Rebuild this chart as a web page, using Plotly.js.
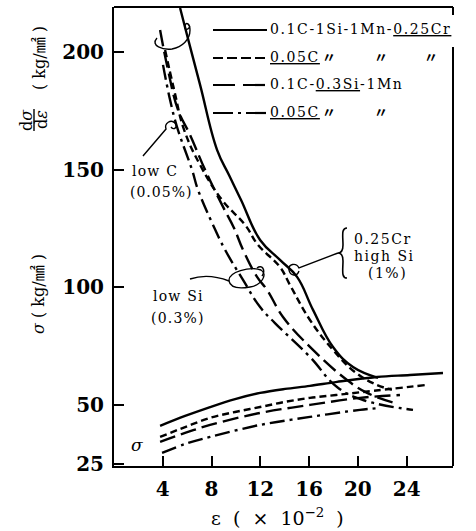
<!DOCTYPE html>
<html><head><meta charset="utf-8">
<script src="https://cdn.plot.ly/plotly-3.0.1.min.js"></script>
<style>html,body{margin:0;padding:0;background:#fff;}#chart{width:476px;height:531px;}</style>
</head><body><div id="chart"></div>
<script>
// ---- data ----
const seriesNames = ['0.1C-1Si-1Mn-0.25Cr', '0.05C-1Si-1Mn-0.25Cr', '0.1C-0.3Si-1Mn', '0.05C-0.3Si-1Mn'];
const xTicks = [4, 8, 12, 16, 20, 24];
const yTicks = [25, 50, 100, 150, 200];

// d(sigma)/d(epsilon) curves
const dsA_x = [5.42, 5.99, 7.06, 8.45, 9.43, 10.42, 11.98, 13.61, 15.01, 16.32, 17.96, 19.6, 21.65];
const dsA_y = [218.7, 207.2, 186.0, 158.4, 147.7, 137.1, 120.1, 111.6, 104.4, 90.4, 74.6, 66.1, 61.5];
const dsB_x = [4.19, 4.93, 5.75, 7.06, 8.86, 10.75, 11.81, 13.61, 14.43, 16.07, 17.96, 19.75, 21.39, 22.79];
const dsB_y = [200.8, 183.9, 166.9, 152.0, 137.1, 126.5, 118.0, 108.6, 101.0, 86.1, 73.4, 64.0, 58.9, 56.4];
const dsC_x = [3.78, 4.43, 5.25, 6.24, 7.47, 8.86, 9.84, 10.58, 11.73, 12.55, 13.86, 16.32, 19.11, 20.75, 23.04];
const dsC_y = [209.3, 192.4, 175.4, 164.7, 149.9, 135.0, 125.2, 115.9, 104.4, 98.9, 87.4, 73.4, 60.6, 55.1, 50.8];
const dsD_x = [4.02, 4.6, 5.17, 6.4, 6.89, 8.12, 9.11, 10.58, 11.98, 13.2, 16.07, 18.29, 20.42, 24.52];
const dsD_y = [194.5, 179.6, 168.1, 149.9, 141.4, 126.5, 115.9, 103.1, 91.6, 84.8, 70.4, 57.6, 52.1, 47.9];

// sigma curves
const sA_x = [3.78, 5.83, 7.88, 9.93, 11.98, 14.03, 16.07, 18.29, 21.57, 24.27, 26.98];
const sA_y = [41.1, 45.3, 49.1, 52.5, 55.1, 56.8, 58.1, 59.8, 61.9, 62.7, 63.6];
const sB_x = [3.78, 5.83, 7.88, 9.93, 11.98, 14.03, 16.07, 18.2, 20.41, 25.66];
const sB_y = [36.4, 40.6, 44.5, 47.0, 49.1, 51.3, 53.0, 54.2, 55.5, 58.5];
const sC_x = [3.78, 5.83, 7.88, 11.98, 16.07, 20.17, 23.45];
const sC_y = [34.3, 38.1, 41.5, 46.6, 50.0, 53.0, 54.2];
const sD_x = [3.94, 5.83, 7.88, 11.98, 16.07, 20.17, 21.8];
const sD_y = [29.6, 33.4, 36.4, 41.5, 44.9, 47.9, 48.7];

// ---- styling ----
const dashes = ['solid', '7px,4px', '16px,6px', '15px,5px,3px,5px'];
const W = 476, H = 531, L = 114, R = 453, T = 7, B = 466;
const PX = v => (v - L) / (R - L);
const PY = v => (B - v) / (B - T);
const serif = 'DejaVu Serif, Liberation Serif, Noto Sans CJK JP, serif';

function line(x, y, i, name, sm) {
  return {x: x, y: y, type: 'scatter', mode: 'lines', name: name, showlegend: false,
    hoverinfo: 'skip',
    line: {color: '#000', width: 2.4, dash: dashes[i], shape: 'spline', smoothing: sm}};
}
const traces = [
  line(dsA_x, dsA_y, 0, seriesNames[0], 1.2), line(dsB_x, dsB_y, 1, seriesNames[1], 1.2),
  line(dsC_x, dsC_y, 2, seriesNames[2], 1.2), line(dsD_x, dsD_y, 3, seriesNames[3], 1.2),
  line(sA_x, sA_y, 0, seriesNames[0], 1.0), line(sB_x, sB_y, 1, seriesNames[1], 1.0),
  line(sC_x, sC_y, 2, seriesNames[2], 1.0), line(sD_x, sD_y, 3, seriesNames[3], 1.0)
];

// pixel-path helper for decorative shapes (paper coordinates)
function path(cmds) {
  return cmds.map(c => c[0] + c.slice(1).map((v, k) => (k % 2 === 0 ? PX(v) : PY(v)).toFixed(4)).join(',')).join(' ');
}
const deco = (p, w) => ({type: 'path', xref: 'paper', yref: 'paper', path: path(p), line: {color: '#000', width: w || 1.4}});
const seg = (x0, y0, x1, y1, w, dash) => ({type: 'line', xref: 'paper', yref: 'paper',
  x0: PX(x0), y0: PY(y0), x1: PX(x1), y1: PY(y1), line: {color: '#000', width: w || 2, dash: dash || 'solid'}});

const shapes = [
  // frame top and right (right edge broken behind legend text)
  seg(L, T, R, T, 2), seg(R, T, R, 15, 2), seg(R, 47, R, B, 2),
  // legend samples
  seg(213, 30, 267, 30, 2.2, 'solid'), seg(213, 58, 267, 58, 2.2, '10px,4px'),
  seg(213, 85, 267, 85, 2.2, '22px,8px'), seg(213, 113, 267, 113, 2.2, '20px,5px,3px,5px'),
  // top loop
  deco([['M', 157, 38], ['C', 150, 46, 163, 50, 172, 49], ['C', 182, 47, 190, 40, 190, 30], ['C', 190, 24, 186, 21, 185, 26], ['C', 184, 30, 188, 31, 190, 26]]),
  // low C pointer
  deco([['M', 143, 156], ['L', 166, 129], ['C', 164, 123, 171, 119, 175, 123], ['C', 178, 127, 174, 131, 171, 127]]),
  // low Si pointer
  deco([['M', 190, 279], ['C', 202, 275, 216, 276, 229, 281], ['C', 228, 272, 250, 266, 261, 270], ['C', 268, 274, 262, 285, 250, 287], ['C', 238, 289, 230, 287, 229, 281]]),
  deco([['M', 257, 268], ['C', 262, 264, 266, 270, 262, 276]]),
  // brace + pointer for 0.25Cr high Si
  deco([['M', 347, 228], ['C', 341, 228, 343, 236, 343, 245], ['C', 343, 251, 341, 253, 338, 253], ['C', 341, 253, 343, 255, 343, 261], ['C', 343, 270, 341, 278, 347, 278]], 1.6),
  deco([['M', 338, 253], ['L', 299, 268], ['C', 296, 262, 288, 264, 289, 270], ['C', 290, 276, 297, 277, 299, 271]]),
  // fraction bar of d sigma / d epsilon
  seg(34, 112, 34, 134, 1.4)
];

const sp = (t, ls) => '<span style="letter-spacing:' + ls + 'px">' + t + '</span>';
function ann(x, y, text, opt) {
  return Object.assign({xref: 'paper', yref: 'paper', x: PX(x), y: PY(y), text: text, showarrow: false,
    xanchor: 'left', yanchor: 'middle', font: {family: serif, size: 14, color: '#000'}}, opt || {});
}
const ditto = (x, y) => ann(x, y, '〃', {xanchor: 'center', font: {family: 'Noto Sans CJK JP', size: 14, color: '#000', weight: 'bold'}});
const annotations = [
  // legend texts
  ann(268, 29, sp('0.1C-1Si-1Mn-<u>0.25Cr</u>', 1.6)),
  ann(268, 57, sp('<u>0.05C</u>', 1.6)), ditto(329, 56), ditto(381, 56), ditto(431, 56),
  ann(268, 84, sp('0.1C-<u>0.3Si</u>-1Mn', 1.6)),
  ann(268, 112, sp('<u>0.05C</u>', 1.6)), ditto(329, 111), ditto(381, 111),
  // curve labels
  ann(130, 171, sp('low C', 1.2)), ann(128, 192, sp('(0.05%)', 1)),
  ann(151, 296, sp('low Si', 1.2)), ann(149, 318, sp('(0.3%)', 1.2)),
  ann(352, 239, sp('0.25Cr', 1.5)), ann(352, 256, sp('high Si', 1.5)), ann(366, 273, sp('(1%)', 1.5)),
  ann(137, 445, '<i>σ</i>', {xanchor: 'center', font: {family: serif, size: 17, color: '#000'}}),
  // y-axis titles
  ann(39, 58, '( kg/㎟ )', {xanchor: 'center', textangle: -90, font: {family: serif, size: 16, color: '#000'}}),
  ann(27, 120, 'd<i>σ</i>', {xanchor: 'center', textangle: -90, font: {family: serif, size: 16, color: '#000'}}),
  ann(42, 120, 'd<i>ε</i>', {xanchor: 'center', textangle: -90, font: {family: serif, size: 16, color: '#000'}}),
  ann(38, 294, '<i>σ</i> ( kg/㎟ )', {xanchor: 'center', textangle: -90, font: {family: serif, size: 16, color: '#000'}}),
  // x-axis title
  ann(277, 517, 'ε  (  ×  10<sup>−2</sup>  )', {xanchor: 'center', font: {family: serif, size: 19, color: '#000'}})
];
// fraction bar follows the label position
shapes[shapes.length - 1] = seg(34, 109, 34, 131, 1.4);

const layout = {
  width: W, height: H,
  margin: {l: L, r: W - R, t: T, b: H - B, pad: 0},
  paper_bgcolor: '#fff', plot_bgcolor: '#fff',
  showlegend: false,
  xaxis: {range: [0, 27.8], tickvals: xTicks, ticktext: xTicks.map(String), ticks: 'inside', ticklen: 10,
    tickwidth: 2, tickcolor: '#000', showline: true, linewidth: 2, linecolor: '#000', showgrid: false,
    zeroline: false, ticklabelstandoff: 4,
    tickfont: {family: serif, size: 20, weight: 'bold', color: '#000'}},
  yaxis: {range: [24.05, 219.1], tickvals: yTicks, ticktext: yTicks.map(String), ticks: 'inside', ticklen: 10,
    tickwidth: 2, tickcolor: '#000', showline: true, linewidth: 2, linecolor: '#000', showgrid: false,
    zeroline: false, ticklabelstandoff: 4,
    tickfont: {family: serif, size: 20, weight: 'bold', color: '#000'}},
  shapes: shapes,
  annotations: annotations
};
Plotly.newPlot('chart', traces, layout, {staticPlot: true, displayModeBar: false});
</script></body></html>
